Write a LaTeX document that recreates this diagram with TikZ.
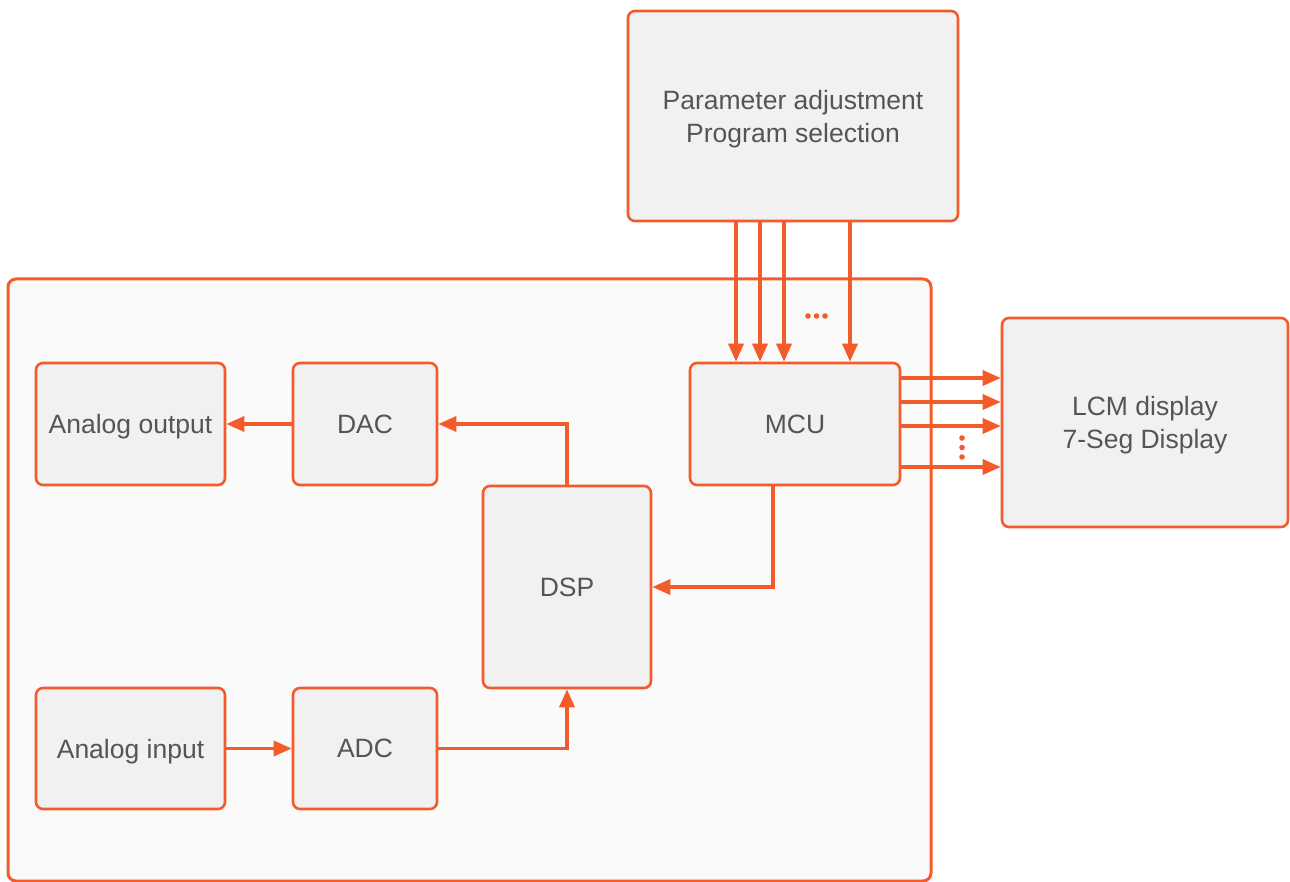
\documentclass[tikz,border=0pt]{standalone}
\usepackage{fontspec}
\setmainfont{Liberation Sans}
\usetikzlibrary{arrows.meta,calc}
\definecolor{org}{HTML}{F35B2B}
\definecolor{boxfill}{HTML}{F1F1F1}
\definecolor{framefill}{HTML}{FAFAFA}
\definecolor{txt}{HTML}{555555}
\tikzset{
  blk/.style={draw=org, line width=2.6pt, fill=boxfill, rounded corners=7pt, inner sep=0pt,
    text=txt, font=\fontsize{26.5}{33}\selectfont, align=center, text depth=0pt},
  arr/.style={draw=org, line width=3.4pt, -{Triangle[length=18pt,width=15pt]}},
  dotc/.style={fill=org, draw=none}
}
\begin{document}
\begin{tikzpicture}[x=1pt,y=-1pt]
\useasboundingbox (0,0) rectangle (1290,882);
% frame
\draw[draw=org, line width=3pt, fill=framefill, rounded corners=8pt] (8,279) rectangle (931,881);
\node[blk, minimum width=330pt, minimum height=210pt] (param) at (793,116) {Parameter adjustment\\Program selection};
\node[blk, minimum width=286pt, minimum height=209pt] (lcm) at (1145,422.5) {LCM display\\7-Seg Display};
\node[blk, minimum width=189pt, minimum height=122pt] (aout) at (130.5,424) {Analog output};
\node[blk, minimum width=144pt, minimum height=122pt] (dac) at (365,424) {DAC};
\node[blk, minimum width=210pt, minimum height=122pt] (mcu) at (795,424) {MCU};
\node[blk, minimum width=168pt, minimum height=202pt] (dsp) at (567,587) {DSP};
\node[blk, minimum width=189pt, minimum height=121pt] (ain) at (130.5,748.5) {Analog input};
\node[blk, minimum width=144pt, minimum height=121pt] (adc) at (365,748.5) {ADC};
% param -> mcu
\foreach \s in {-59,-35,-11,55}{
  \draw[arr] ([xshift=\s pt]mcu.north |- param.south) -- ([xshift=\s pt]mcu.north);
}
\foreach \x in {808,816.5,825}{\fill[dotc] (\x,316) circle (2.8pt);}
% mcu -> lcm
\foreach \s in {46,22,-2,-43}{
  \draw[arr] ([yshift=\s pt]mcu.east) -- ([yshift=\s pt]mcu.east -| lcm.west);
}
\foreach \y in {438,447.5,457}{\fill[dotc] (962,\y) circle (2.8pt);}
% internal
\draw[arr] (dac.west) -- (aout.east);
\draw[arr] (dsp.north) |- (dac.east);
\draw[arr] ([xshift=-22pt]mcu.south) |- (dsp.east);
\draw[arr] (ain.east) -- (adc.west);
\draw[arr] (adc.east) -| (dsp.south);
\end{tikzpicture}
\end{document}
